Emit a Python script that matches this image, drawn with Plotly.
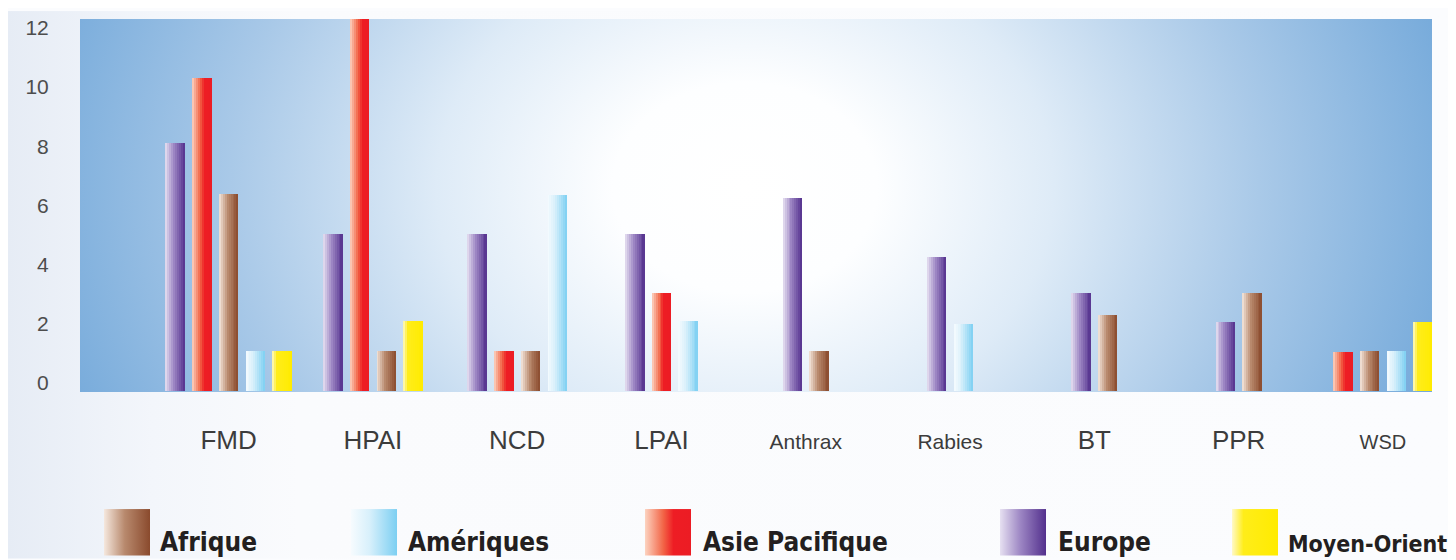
import base64
import plotly.graph_objects as go

# ---------------- data ----------------
categories = ["FMD", "HPAI", "NCD", "LPAI", "Anthrax", "Rabies", "BT", "PPR", "WSD"]
tick_labels = ["FMD", "HPAI", "NCD", "LPAI", "Anthrax", "Rabies", "BT", "PPR", "WSD"]

europe = [8.1, 5.05, 5.05, 5.05, 6.25, 4.25, 3.05, 2.05, None]
asie_pacifique = [10.3, 12.3, 1.1, 3.05, None, None, None, None, 1.05]
afrique = [6.4, 1.1, 1.1, None, 1.1, None, 2.3, 3.05, 1.1]
ameriques = [1.1, None, 6.35, 2.1, None, 2.0, None, None, 1.1]
moyen_orient = [1.1, 2.1, None, None, None, None, None, None, 2.05]

series_names = ["Afrique", "Amériques", "Asie Pacifique", "Europe", "Moyen-Orient"]
y_ticks = [0, 2, 4, 6, 8, 10, 12]

# ---------------- styles ----------------
OFF = 8                      # page body margin of the browser
W, H = 1456 - OFF, 560 - OFF
ML, MR, MT, MB = 80 - OFF, 24, 16 - OFF, 168
PW, PH = W - ML - MR, H - MT - MB

gradients = {
    "Europe": [(0, "#e6e0f1"), (0.45, "#9c85c3"), (1, "#53308d")],
    "Asie Pacifique": [(0, "#fcd3c0"), (0.4, "#f26446"), (0.62, "#ee1d24"), (1, "#ec1c24")],
    "Afrique": [(0, "#f5e8de"), (0.45, "#b8896d"), (1, "#8a4a2d")],
    "Amériques": [(0, "#f6fbfe"), (0.4, "#d8f0fb"), (1, "#7ccff2")],
    "Moyen-Orient": [(0, "#fff9c8"), (0.25, "#ffed1a"), (1, "#ffeb00")],
}
draw_order = [("Europe", europe), ("Asie Pacifique", asie_pacifique), ("Afrique", afrique),
              ("Amériques", ameriques), ("Moyen-Orient", moyen_orient)]
tick_sizes = {"Anthrax": 21, "Rabies": 21, "WSD": 20}


def hex2rgb(h):
    h = h.lstrip("#")
    return tuple(int(h[i:i + 2], 16) for i in (0, 2, 4))


def interp(stops, t):
    for (t0, c0), (t1, c1) in zip(stops[:-1], stops[1:]):
        if t0 <= t <= t1:
            a, b = hex2rgb(c0), hex2rgb(c1)
            f = 0 if t1 == t0 else (t - t0) / (t1 - t0)
            r = [round(a[i] + (b[i] - a[i]) * f) for i in range(3)]
            return f"rgb({r[0]},{r[1]},{r[2]})"
    return stops[-1][1]


BAR_W = 0.135
PITCH = 0.185
NSTRIP = 10
BASE = -0.25                 # bars start at the bottom edge of the plot

# offsets: bars present in each category are packed side by side
centers = {name: [None] * len(categories) for name, _ in draw_order}
for i in range(len(categories)):
    present = [name for name, vals in draw_order if vals[i] is not None]
    n = len(present)
    for j, name in enumerate(present):
        centers[name][i] = (j - (n - 1) / 2) * PITCH

fig = go.Figure()
for name, vals in draw_order:
    xs = [c for c, v in zip(categories, vals) if v is not None]
    lengths = [v - BASE for v in vals if v is not None]   # top of each bar sits at its value
    tops = [v for v in vals if v is not None]
    cs = [centers[name][i] for i, v in enumerate(vals) if v is not None]
    sw = BAR_W / NSTRIP
    for k in range(NSTRIP):
        t = (k + 0.5) / NSTRIP
        fig.add_trace(go.Bar(
            x=xs, y=lengths, base=BASE,
            offset=[c - BAR_W / 2 + k * sw for c in cs],
            width=sw * (1.25 if k < NSTRIP - 1 else 1.0),
            marker=dict(color=interp(gradients[name], t), line=dict(width=0)),
            name=name, showlegend=False,
            customdata=tops, hovertemplate="%{x}: %{customdata}<extra>" + name + "</extra>",
        ))


def svg_uri(svg):
    return "data:image/svg+xml;base64," + base64.b64encode(svg.encode("utf-8")).decode()


# plot-area radial background
bg_svg = f'''<svg xmlns="http://www.w3.org/2000/svg" width="{PW}" height="{PH}" viewBox="0 0 {PW} {PH}" preserveAspectRatio="none">
<defs><radialGradient id="g" gradientUnits="userSpaceOnUse" cx="665" cy="170" r="735"
gradientTransform="translate(665 170) scale(1 0.8) translate(-665 -170)">
<stop offset="0" stop-color="#ffffff"/>
<stop offset="0.18" stop-color="#fdfeff"/>
<stop offset="0.42" stop-color="#deebf7"/>
<stop offset="0.7" stop-color="#a9c9e8"/>
<stop offset="1" stop-color="#74a9da"/>
</radialGradient></defs>
<rect width="{PW}" height="{PH}" fill="url(#g)"/></svg>'''

page_svg = f'''<svg xmlns="http://www.w3.org/2000/svg" width="{W}" height="{H}" viewBox="0 0 {W} {H}" preserveAspectRatio="none">
<defs><linearGradient id="p" x1="0" y1="0" x2="1" y2="0">
<stop offset="0" stop-color="#e6ecf5"/>
<stop offset="0.1" stop-color="#f3f6fb"/>
<stop offset="0.2" stop-color="#fafbfd"/>
<stop offset="1" stop-color="#fbfcfe"/>
</linearGradient></defs>
<rect width="{W}" height="{H}" fill="url(#p)"/></svg>'''


def px2paper_x(px):          # px = page pixel
    return (px - OFF - ML) / PW


def px2paper_y(py):
    return (H - MB - (py - OFF)) / PH


images = [
    dict(source=svg_uri(page_svg), xref="paper", yref="paper",
         x=px2paper_x(OFF), y=px2paper_y(OFF), sizex=W / PW, sizey=H / PH,
         sizing="stretch", xanchor="left", yanchor="top", layer="below"),
    dict(source=svg_uri(bg_svg), xref="paper", yref="paper",
         x=0, y=1, sizex=1, sizey=1, sizing="stretch",
         xanchor="left", yanchor="top", layer="below"),
]

# custom legend with gradient swatches
legend_sw_x = [104, 351, 645, 1000, 1232]
legend_txt_x = [158, 406, 701, 1056, 1286]
legend_font = [26, 26, 26, 26, 23]
annotations = []
for name, sx, tx, fs in zip(series_names, legend_sw_x, legend_txt_x, legend_font):
    stops = "".join(f'<stop offset="{o}" stop-color="{c}"/>' for o, c in gradients[name])
    sw_svg = (f'<svg xmlns="http://www.w3.org/2000/svg" width="46" height="47" viewBox="0 0 46 47" '
              f'preserveAspectRatio="none"><defs><linearGradient id="s" x1="0" y1="0" x2="1" y2="0">'
              f'{stops}</linearGradient></defs><rect width="46" height="47" fill="url(#s)"/></svg>')
    images.append(dict(source=svg_uri(sw_svg), xref="paper", yref="paper",
                       x=px2paper_x(sx), y=px2paper_y(510), sizex=46 / PW, sizey=47 / PH,
                       sizing="stretch", xanchor="left", yanchor="top", layer="above"))
    annotations.append(dict(text=f"<b>{name}</b>", xref="paper", yref="paper",
                            x=px2paper_x(tx), y=px2paper_y(560), xanchor="left", yanchor="bottom",
                            showarrow=False,
                            font=dict(family="DejaVu Sans Condensed, DejaVu Sans", size=fs, color="#231f20")))

ticktext = [f'<span style="font-size:{tick_sizes[t]}px">{t}</span>' if t in tick_sizes else t
            for t in tick_labels]

fig.update_layout(
    width=W, height=H, autosize=False,
    margin=dict(l=ML, r=MR, t=MT, b=MB, pad=0),
    paper_bgcolor="#fbfcfe", plot_bgcolor="rgba(0,0,0,0)",
    barmode="overlay", bargap=0,
    showlegend=False,
    images=images,
    annotations=annotations,
    xaxis=dict(type="category", categoryorder="array", categoryarray=categories,
               range=[-1.03, 8.34], tickvals=categories, ticktext=ticktext,
               ticks="outside", ticklen=25, tickcolor="rgba(0,0,0,0)",
               showgrid=False, zeroline=False, showline=False,
               tickfont=dict(family="Liberation Sans, Arial", size=26, color="#3c3c3c")),
    yaxis=dict(range=[-0.3, 12.3], tickvals=y_ticks, ticks="outside", ticklen=26,
               tickcolor="rgba(0,0,0,0)", showgrid=False, zeroline=False, showline=False,
               tickfont=dict(family="Liberation Sans, Arial", size=21, color="#4d4d4d")),
)

fig.write_html("out.html")
